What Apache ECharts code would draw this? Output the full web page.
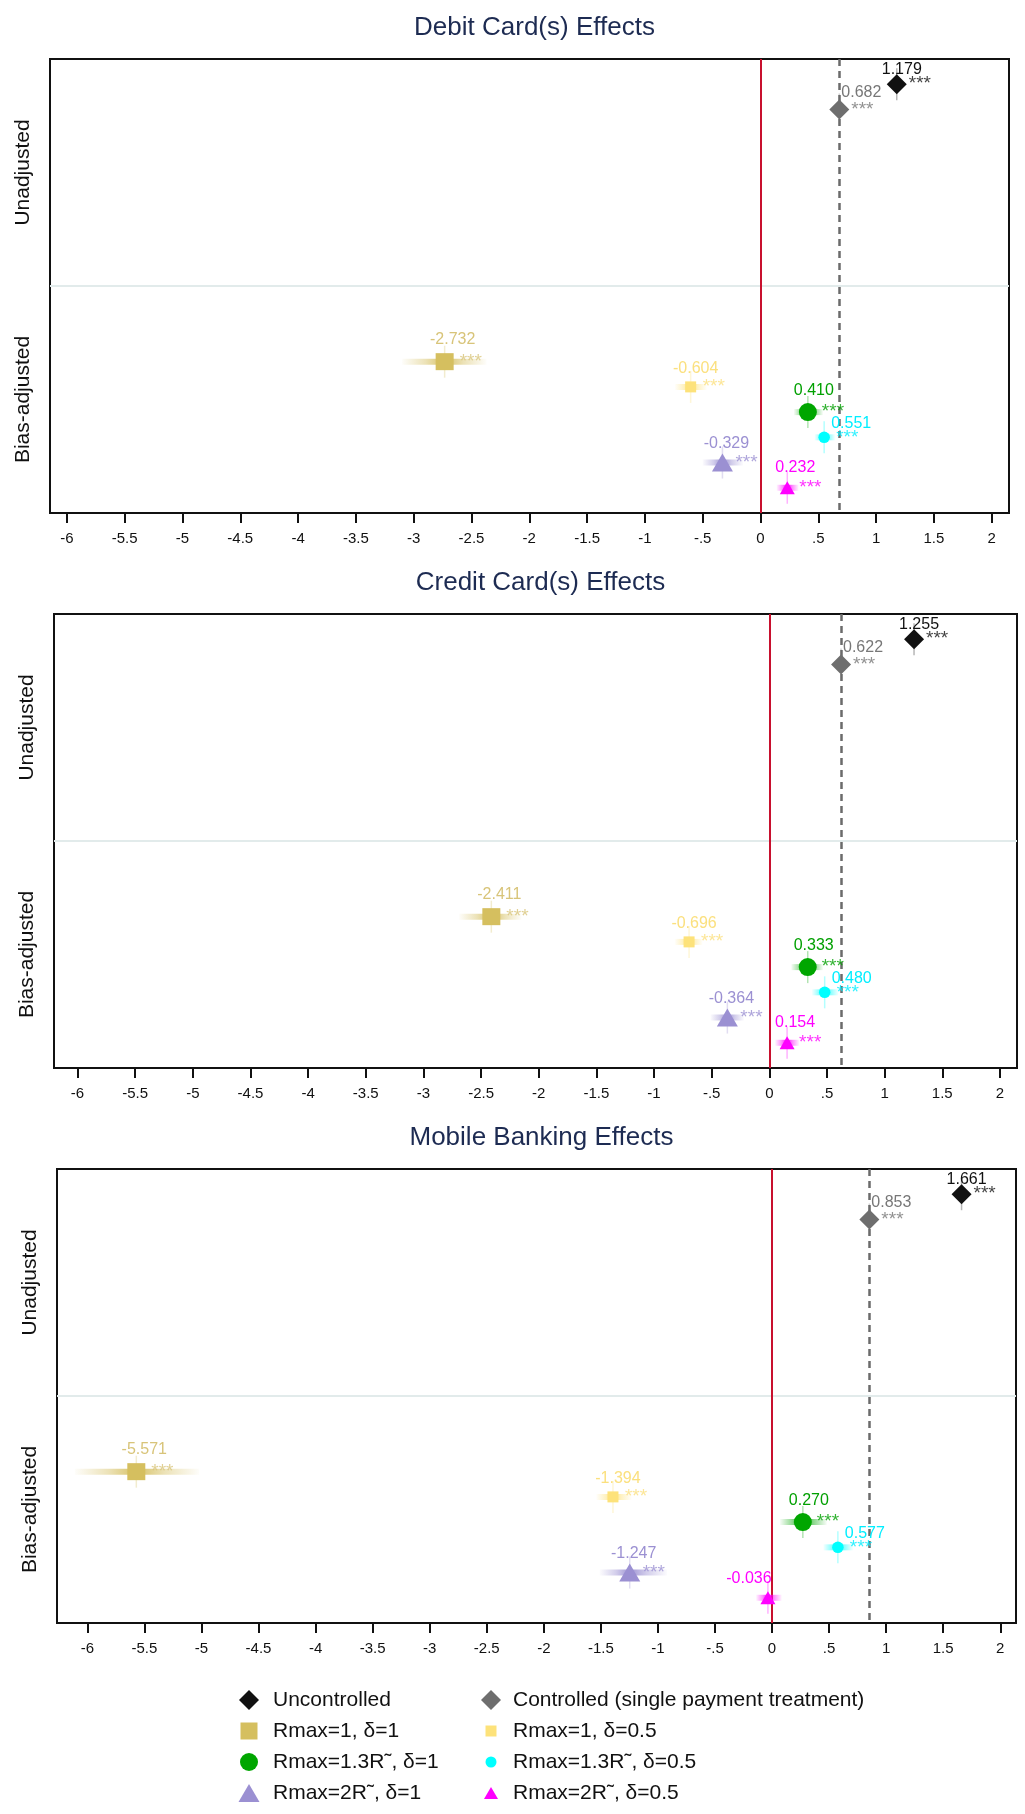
<!DOCTYPE html>
<html>
<head>
<meta charset="utf-8">
<script src="https://cdn.jsdelivr.net/npm/echarts@6/dist/echarts.min.js"></script>
<style>
html,body{margin:0;padding:0;background:#ffffff;}
#chart{width:1025px;height:1814px;}
</style>
</head>
<body>
<div id="chart"></div>
<script>
// ---------------- DATA ----------------
const panelTitles = ['Debit Card(s) Effects', 'Credit Card(s) Effects', 'Mobile Banking Effects'];
const yGroupLabels = ['Unadjusted', 'Bias-adjusted'];
const seriesNames = [
  'Uncontrolled',
  'Controlled (single payment treatment)',
  'Rmax=1, δ=1',
  'Rmax=1, δ=0.5',
  'Rmax=1.3R\u02DC, δ=1',
  'Rmax=1.3R\u02DC, δ=0.5',
  'Rmax=2R\u02DC, δ=1',
  'Rmax=2R\u02DC, δ=0.5'
];
const xTickValues = [-6, -5.5, -5, -4.5, -4, -3.5, -3, -2.5, -2, -1.5, -1, -0.5, 0, 0.5, 1, 1.5, 2];

const debitEst   = [1.179, 0.682, -2.732, -0.604, 0.410, 0.551, -0.329, 0.232];
const debitLo    = [1.13, 0.64, -3.10, -0.74, 0.29, 0.47, -0.50, 0.14];
const debitHi    = [1.23, 0.72, -2.37, -0.465, 0.54, 0.645, -0.15, 0.33];
const debitStars = ['***', '***', '***', '***', '***', '***', '***', '***'];

const creditEst   = [1.255, 0.622, -2.411, -0.696, 0.333, 0.480, -0.364, 0.154];
const creditLo    = [1.21, 0.58, -2.69, -0.82, 0.19, 0.37, -0.51, 0.05];
const creditHi    = [1.30, 0.66, -2.15, -0.58, 0.465, 0.60, -0.22, 0.26];
const creditStars = ['***', '***', '***', '***', '***', '***', '***', '***'];

const mobileEst   = [1.661, 0.853, -5.571, -1.394, 0.270, 0.577, -1.247, -0.036];
const mobileLo    = [1.61, 0.81, -6.11, -1.54, 0.07, 0.45, -1.51, -0.14];
const mobileHi    = [1.71, 0.90, -5.02, -1.23, 0.48, 0.71, -0.92, 0.085];
const mobileStars = ['***', '***', '***', '***', '***', '***', '***', ''];

// ---------------- LAYOUT / STYLE ----------------
const FONT = '"Liberation Sans", Arial, Helvetica, sans-serif';
const panels = [
  {est: debitEst,  lo: debitLo,  hi: debitHi,  stars: debitStars},
  {est: creditEst, lo: creditLo, hi: creditHi, stars: creditStars},
  {est: mobileEst, lo: mobileLo, hi: mobileHi, stars: mobileStars}
];
const rowPos = [0, 1, 11, 12, 13, 14, 15, 16];   // vertical slot of each series in a panel
const groupCenters = [3.5, 12.5];
const groupSeparator = 8;
const panelBox = [
  {left: 50, top: 59,   right: 1009, xmin: -6.146, xmax: 2.150},
  {left: 54, top: 614,  right: 1017, xmin: -6.204, xmax: 2.148},
  {left: 57, top: 1169, right: 1016, xmin: -6.266, xmax: 2.138}
];
const PANEL_H = 454;
const titleY = [25, 580, 1135];

const seriesStyle = [
  {color: '#111111', label: '#111111', symbol: 'diamond',  size: [20, 20], lab: [5, -15],  star: [12, 0], lg: {col: 0, row: 0, w: 20, h: 20}},
  {color: '#6e6e6e', label: '#777777', symbol: 'diamond',  size: [20, 20], lab: [22, -17], star: [12, 0], lg: {col: 1, row: 0, w: 20, h: 20}},
  {color: '#d5bf5f', label: '#d8c479', symbol: 'rect',     size: [18, 17], lab: [8, -22],  star: [15, 0], lg: {col: 0, row: 1, w: 17, h: 17}},
  {color: '#fde27a', label: '#fbe07e', symbol: 'rect',     size: [11, 11], lab: [5, -18],  star: [12, 0], lg: {col: 1, row: 1, w: 11, h: 11}},
  {color: '#00a600', label: '#00a000', symbol: 'circle',   size: 18,       lab: [6, -22],  star: [14, 0], lg: {col: 0, row: 2, w: 18, h: 18}},
  {color: '#00ffff', label: '#00eeff', symbol: 'circle',   size: 11.5,     lab: [27, -14], star: [12, 0], lg: {col: 1, row: 2, w: 11, h: 11}},
  {color: '#9b90d2', label: '#9b90d2', symbol: 'triangle', size: [21, 18], lab: [4, -19],  star: [13, 0], lg: {col: 0, row: 3, w: 21, h: 18}},
  {color: '#ff00ff', label: '#ff00ff', symbol: 'triangle', size: [15, 13], lab: [8, -20],  star: [12, 0], lg: {col: 1, row: 3, w: 14, h: 12}}
];
const legendColX = [{cx: 249, tx: 273}, {cx: 491, tx: 513}];
const legendRowY = [1700, 1731, 1762, 1793];

function hexA(hex, a) {
  const n = parseInt(hex.slice(1), 16);
  return 'rgba(' + ((n >> 16) & 255) + ',' + ((n >> 8) & 255) + ',' + (n & 255) + ',' + a + ')';
}
function tickFmt(v) {
  if (Math.abs(v) < 1e-9) return '0';
  return String(v).replace(/^(-?)0\./, '$1.');
}

const grids = [], xAxes = [], yAxes = [], titles = [], series = [];

panelBox.forEach((b, p) => {
  grids.push({
    left: b.left, top: b.top, width: b.right - b.left, height: PANEL_H,
    show: true, borderColor: '#111111', borderWidth: 2, backgroundColor: '#ffffff',
    containLabel: false, outerBoundsMode: 'none'
  });
  xAxes.push({
    gridIndex: p, type: 'value', min: b.xmin, max: b.xmax, position: 'bottom',
    axisLine: {show: false, onZero: false},
    axisTick: {show: true, customValues: xTickValues, length: 10, lineStyle: {color: '#111111', width: 2}},
    axisLabel: {customValues: xTickValues, formatter: tickFmt, fontSize: 15, color: '#111111', margin: 18, fontFamily: FONT},
    splitLine: {show: false}
  });
  yAxes.push({
    gridIndex: p, type: 'value', min: -1, max: 17, inverse: true,
    axisLine: {show: false, onZero: false}, axisTick: {show: false}, splitLine: {show: false},
    axisLabel: {
      customValues: groupCenters,
      formatter: v => (v < groupSeparator ? yGroupLabels[0] : yGroupLabels[1]),
      rotate: 90, fontSize: 21, color: '#111111', margin: 16, fontFamily: FONT
    }
  });
  titles.push({
    text: panelTitles[p],
    left: (b.left + b.right) / 2, top: titleY[p] - 15, textAlign: 'center',
    textStyle: {fontSize: 26, fontWeight: 'normal', color: '#1d2b52', fontFamily: FONT}
  });
});

// marker series first (legend takes icon/colour from the first series of a name)
panels.forEach((pd, p) => {
  seriesNames.forEach((name, i) => {
    const st = seriesStyle[i];
    const noStar = pd.stars[i] === '';
    series.push({
      type: 'scatter', name: name, xAxisIndex: p, yAxisIndex: p, z: 4,
      symbol: st.symbol, symbolSize: st.size,
      itemStyle: {color: st.color, opacity: 1},
      data: [[pd.est[i], rowPos[i]]],
      label: {
        show: true, position: 'inside', align: 'center', verticalAlign: 'middle',
        offset: noStar ? [-19, st.lab[1] + 1] : st.lab,
        formatter: o => o.value[0].toFixed(3),
        color: st.label, fontSize: 16, fontFamily: FONT
      },
      emphasis: {disabled: true}, silent: true
    });
  });
});

panels.forEach((pd, p) => {
  // reference lines
  series.push({
    type: 'scatter', name: '_ref' + p, xAxisIndex: p, yAxisIndex: p, data: [], z: 1, silent: true,
    markLine: {
      silent: true, symbol: ['none', 'none'], label: {show: false}, animation: false, z: 1,
      emphasis: {disabled: true},
      data: [
        {yAxis: groupSeparator, lineStyle: {color: '#e2ebeb', width: 2, type: 'solid'}},
        {xAxis: 0, lineStyle: {color: '#c8102e', width: 2, type: 'solid'}},
        {xAxis: pd.est[1], lineStyle: {color: '#6b6b6b', width: 2.5, type: [7, 5]}}
      ]
    }
  });
  seriesNames.forEach((name, i) => {
    const st = seriesStyle[i];
    // interval bands
    series.push({
      type: 'custom', name: name, xAxisIndex: p, yAxisIndex: p, z: 2, silent: true,
      data: [[pd.lo[i], pd.hi[i], pd.est[i], rowPos[i]]],
      renderItem: (params, api) => {
        const lo = api.value(0), hi = api.value(1), v = api.value(2), r = api.value(3);
        const pL = api.coord([lo, r]), pH = api.coord([hi, r]), pV = api.coord([v, r]);
        const c = Math.min(0.95, Math.max(0.05, (v - lo) / (hi - lo)));
        const grad = new echarts.graphic.LinearGradient(0, 0, 1, 0, [
          {offset: 0, color: hexA(st.color, 0.03)},
          {offset: c * 0.55, color: hexA(st.color, 0.45)},
          {offset: c, color: hexA(st.color, 0.95)},
          {offset: c + (1 - c) * 0.45, color: hexA(st.color, 0.45)},
          {offset: 1, color: hexA(st.color, 0.03)}
        ]);
        return {
          type: 'group',
          children: [
            {type: 'rect', shape: {x: pL[0], y: pV[1] - 3, width: Math.max(1, pH[0] - pL[0]), height: 6}, style: {fill: grad}},
            {type: 'line', shape: {x1: pV[0], y1: pV[1] - 16, x2: pV[0], y2: pV[1] + 16}, style: {stroke: hexA(st.color, 0.3), lineWidth: 1.5}}
          ]
        };
      }
    });
    // significance stars
    series.push({
      type: 'scatter', name: name, xAxisIndex: p, yAxisIndex: p, z: 5, silent: true,
      symbol: 'circle', symbolSize: 1, itemStyle: {color: 'rgba(0,0,0,0)'},
      data: [[pd.est[i], rowPos[i], pd.stars[i]]],
      label: {
        show: true, position: 'inside', align: 'left', verticalAlign: 'middle',
        offset: st.star, formatter: o => o.value[2],
        color: st.label, fontSize: 19, fontFamily: FONT
      },
      emphasis: {disabled: true}
    });
  });
});

const legends = seriesStyle.map((st, i) => {
  const L = st.lg;
  const col = legendColX[L.col];
  const H = Math.max(L.h, 21);
  return {
    data: [{name: seriesNames[i], icon: st.symbol}],
    orient: 'horizontal', left: col.cx - L.w / 2, top: legendRowY[L.row] - H / 2,
    itemWidth: L.w, itemHeight: L.h, padding: 0, itemGap: 0,
    textStyle: {fontSize: 21, color: '#111111', fontFamily: FONT, padding: [0, 0, 0, col.tx - (col.cx + L.w / 2 + 5)]}
  };
});

const chart = echarts.init(document.getElementById('chart'), null, {renderer: 'canvas'});
chart.setOption({
  animation: false,
  backgroundColor: '#ffffff',
  textStyle: {fontFamily: FONT},
  title: titles,
  grid: grids,
  xAxis: xAxes,
  yAxis: yAxes,
  legend: legends,
  series: series
});
</script>
</body>
</html>
